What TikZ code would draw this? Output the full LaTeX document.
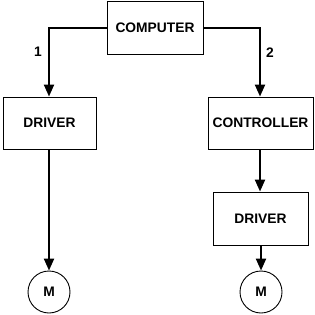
\documentclass[tikz,border=0pt]{standalone}
\usepackage{fontspec}
\setmainfont{Liberation Sans}
\usetikzlibrary{arrows.meta}
\begin{document}
\begin{tikzpicture}[x=1pt,y=-1pt,
  box/.style={draw,line width=0.9pt,inner sep=0pt,font=\fontsize{13.8}{14}\selectfont\bfseries},
  motor/.style={draw,circle,line width=0.9pt,minimum size=42pt,inner sep=0pt,font=\fontsize{13.8}{14}\selectfont\bfseries},
  conn/.style={line width=2.2pt,-{Triangle[length=12pt,width=10pt]}},
  lbl/.style={font=\fontsize{13.8}{14}\selectfont\bfseries}]
\useasboundingbox (0,0) rectangle (314,315);
\node[box,minimum width=96pt,minimum height=53pt] (comp) at (155,27.5) {COMPUTER};
\node[box,minimum width=93pt,minimum height=52pt] (drv1) at (49.5,123) {DRIVER};
\node[box,minimum width=105pt,minimum height=52pt] (ctrl) at (260.5,123) {CONTROLLER};
\node[box,minimum width=95pt,minimum height=53pt] (drv2) at (260.5,218.5) {DRIVER};
\node[motor] (m1) at (49,292) {M};
\node[motor] (m2) at (261,292) {M};
\coordinate (c1) at (49,28);
\coordinate (c2) at (260,28);
\draw[conn] (comp.west |- c1) -- (c1) -- (c1 |- drv1.north);
\draw[conn] (comp.east |- c2) -- (c2) -- (c2 |- ctrl.north);
\draw[conn] (drv1.south -| m1) -- (m1.north);
\draw[conn] (ctrl.south -| c2) -- (c2 |- drv2.north);
\draw[conn] (drv2.south -| m2) -- (m2.north);
\node[lbl] (l1) at (38,52) {1};
\node[lbl] (l2) at (270,53) {2};
\end{tikzpicture}
\end{document}
